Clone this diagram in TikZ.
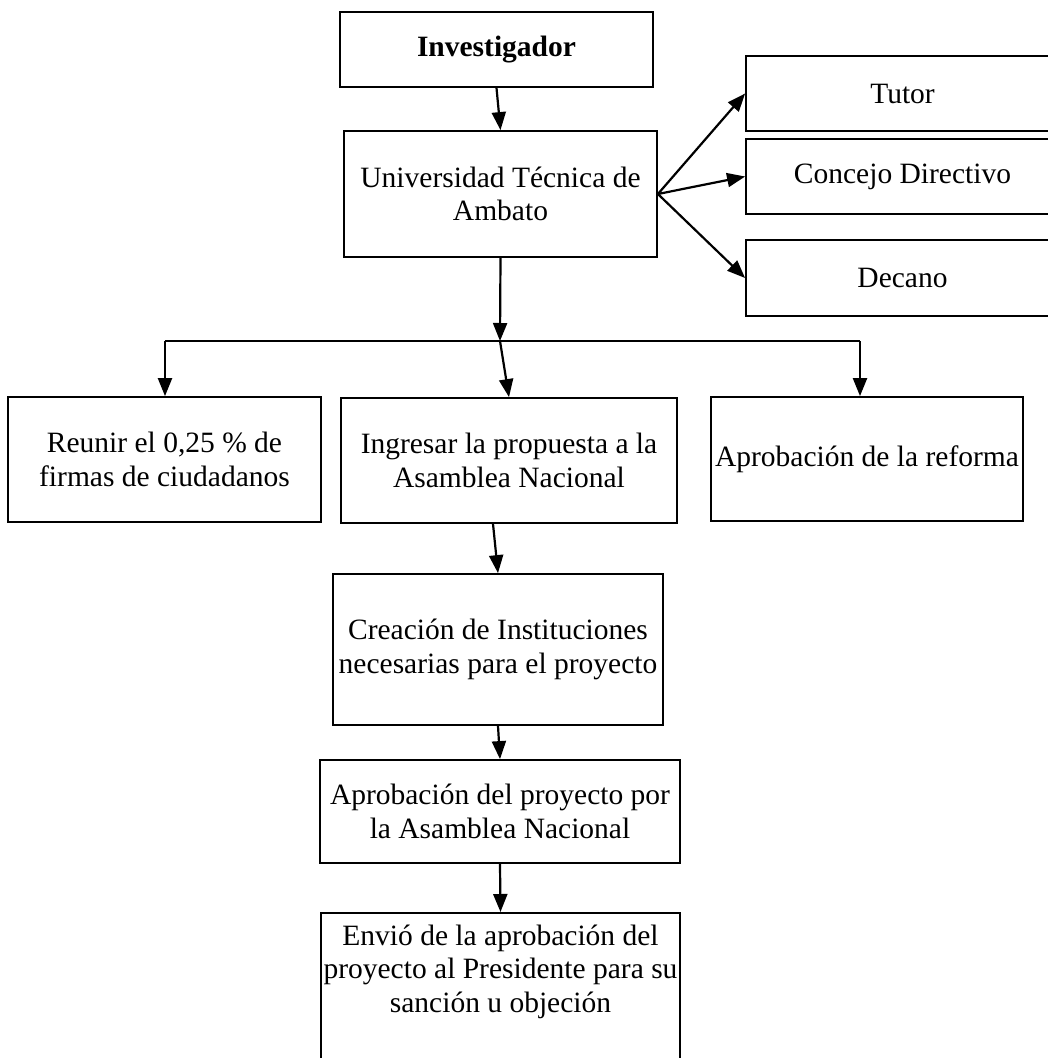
\documentclass[tikz,border=0pt]{standalone}
\usepackage{fontspec}
\setmainfont{Liberation Serif}
\usetikzlibrary{arrows.meta}

\tikzset{
    caja/.style={draw, line width=1.8pt, align=center, inner sep=0pt,
        font=\fontsize{29.5}{33.5}\selectfont},
    flecha/.style={line width=2.2pt, -{Triangle[length=18pt,width=14pt]}},
    linea/.style={line width=2.2pt}
}

\begin{document}
\begin{tikzpicture}[x=1pt,y=-1pt]
                \useasboundingbox (0,0) rectangle (1048,1058);

                \node[caja, minimum width=313pt, minimum height=75pt] (inv) at (496.5,49.5) {\textbf{Investigador}};
                \node[caja, minimum width=313pt, minimum height=126pt] (uta) at (500.5,194) {Universidad Técnica de\\Ambato};

                \node[caja, minimum width=313pt, minimum height=75pt] (tutor) at (902.5,93.5) {Tutor};
                \node[caja, minimum width=313pt, minimum height=75pt] (concejo) at (902.5,176.5) {Concejo Directivo};
                \node[caja, minimum width=313pt, minimum height=76pt] (decano) at (902.5,278) {Decano};

                \node[caja, minimum width=313pt, minimum height=125pt] (reunir) at (164.5,459.5) {Reunir el 0,25 \% de\\firmas de ciudadanos};
                \node[caja, minimum width=336pt, minimum height=125pt] (ingresar) at (509,460.5) {Ingresar la propuesta a la\\Asamblea Nacional};
                \node[caja, minimum width=312pt, minimum height=124pt] (reforma) at (867,459) {Aprobación de la reforma};

                \node[caja, minimum width=330pt, minimum height=151pt] (creacion) at (498,649.5) {Creación de Instituciones\\necesarias para el proyecto};
                \node[caja, minimum width=360pt, minimum height=103pt] (aprobacion) at (500,811.5) {Aprobación del proyecto por\\la Asamblea Nacional};
                \node[caja, minimum width=359pt, inner ysep=12pt, text depth=70pt, anchor=north] (envio) at (500.5,912) {Envió de la aprobación del\\proyecto al Presidente para su\\sanción u objeción};

                \coordinate (sp) at (500,341);
                \coordinate (bl) at (165,341);
                \coordinate (br) at (860,341);

                \draw[flecha] (inv.south) -- (uta.north);
                \draw[flecha] (uta.east) -- (tutor.west);
                \draw[flecha] (uta.east) -- (concejo.west);
                \draw[flecha] (uta.east) -- (decano.west);

                \draw[flecha] (uta.south) -- (sp);
                \draw[linea] (bl) -- (br);
                \draw[flecha] (bl) -- (bl |- reunir.north);
                \draw[flecha] (sp) -- (ingresar.north);
                \draw[flecha] (br) -- (br |- reforma.north);

                \draw[flecha] ([xshift=-16pt]ingresar.south) -- (creacion.north);
                \draw[flecha] (creacion.south) -- (aprobacion.north);
                \draw[flecha] (aprobacion.south) -- (envio.north);
\end{tikzpicture}
\end{document}
